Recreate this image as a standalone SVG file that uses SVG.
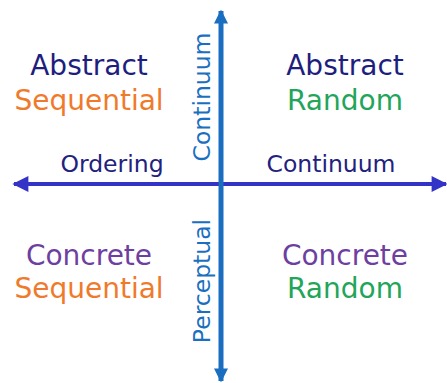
<svg xmlns="http://www.w3.org/2000/svg" width="447" height="383" viewBox="0 0 447 383">
<style>
text{font-family:"DejaVu Sans","Verdana",sans-serif;}
.big{font-size:28px;text-anchor:middle;}
.ax{font-size:23.5px;}
.abs{fill:#1e1e7e;}
.seq{fill:#f07a2c;}
.rnd{fill:#22a55a;}
.con{fill:#6e3fa0;}
.hlab{fill:#22227e;}
.vlab{fill:#1b6fbf;}
</style>
<defs>
<marker id="mh" viewBox="0 0 10 10" refX="9" refY="5" markerWidth="4.2" markerHeight="4" orient="auto-start-reverse" markerUnits="strokeWidth">
<path d="M0,0 L10,5 L0,10 z" fill="#3333c8"/>
</marker>
<marker id="mv" viewBox="0 0 10 10" refX="9" refY="5" markerWidth="2.8" markerHeight="2.8" orient="auto-start-reverse" markerUnits="strokeWidth">
<path d="M0,0 L10,5 L0,10 z" fill="#1a6ec0"/>
</marker>
</defs>
<g id="connectors">
<line x1="14" y1="184" x2="446" y2="184" stroke="#3333c8" stroke-width="4" marker-start="url(#mh)" marker-end="url(#mh)"/>
<line x1="221" y1="11" x2="221" y2="381" stroke="#1a6ec0" stroke-width="5" marker-start="url(#mv)" marker-end="url(#mv)"/>
</g>
<g id="abstract-sequential">
<text class="big abs" x="89" y="75">Abstract</text>
<text class="big seq" x="89" y="110">Sequential</text>
</g>
<g id="abstract-random">
<text class="big abs" x="345" y="75">Abstract</text>
<text class="big rnd" x="345" y="110">Random</text>
</g>
<g id="concrete-sequential">
<text class="big con" x="89" y="265">Concrete</text>
<text class="big seq" x="89" y="298">Sequential</text>
</g>
<g id="concrete-random">
<text class="big con" x="345" y="265">Concrete</text>
<text class="big rnd" x="345" y="298">Random</text>
</g>
<g id="labels">
<text class="ax hlab" x="112" y="172" text-anchor="middle">Ordering</text>
<text class="ax hlab" x="331" y="172" text-anchor="middle">Continuum</text>
<text class="ax vlab" transform="translate(210,97) rotate(-90)" text-anchor="middle">Continuum</text>
<text class="ax vlab" transform="translate(210,281) rotate(-90)" text-anchor="middle">Perceptual</text>
</g>
</svg>
